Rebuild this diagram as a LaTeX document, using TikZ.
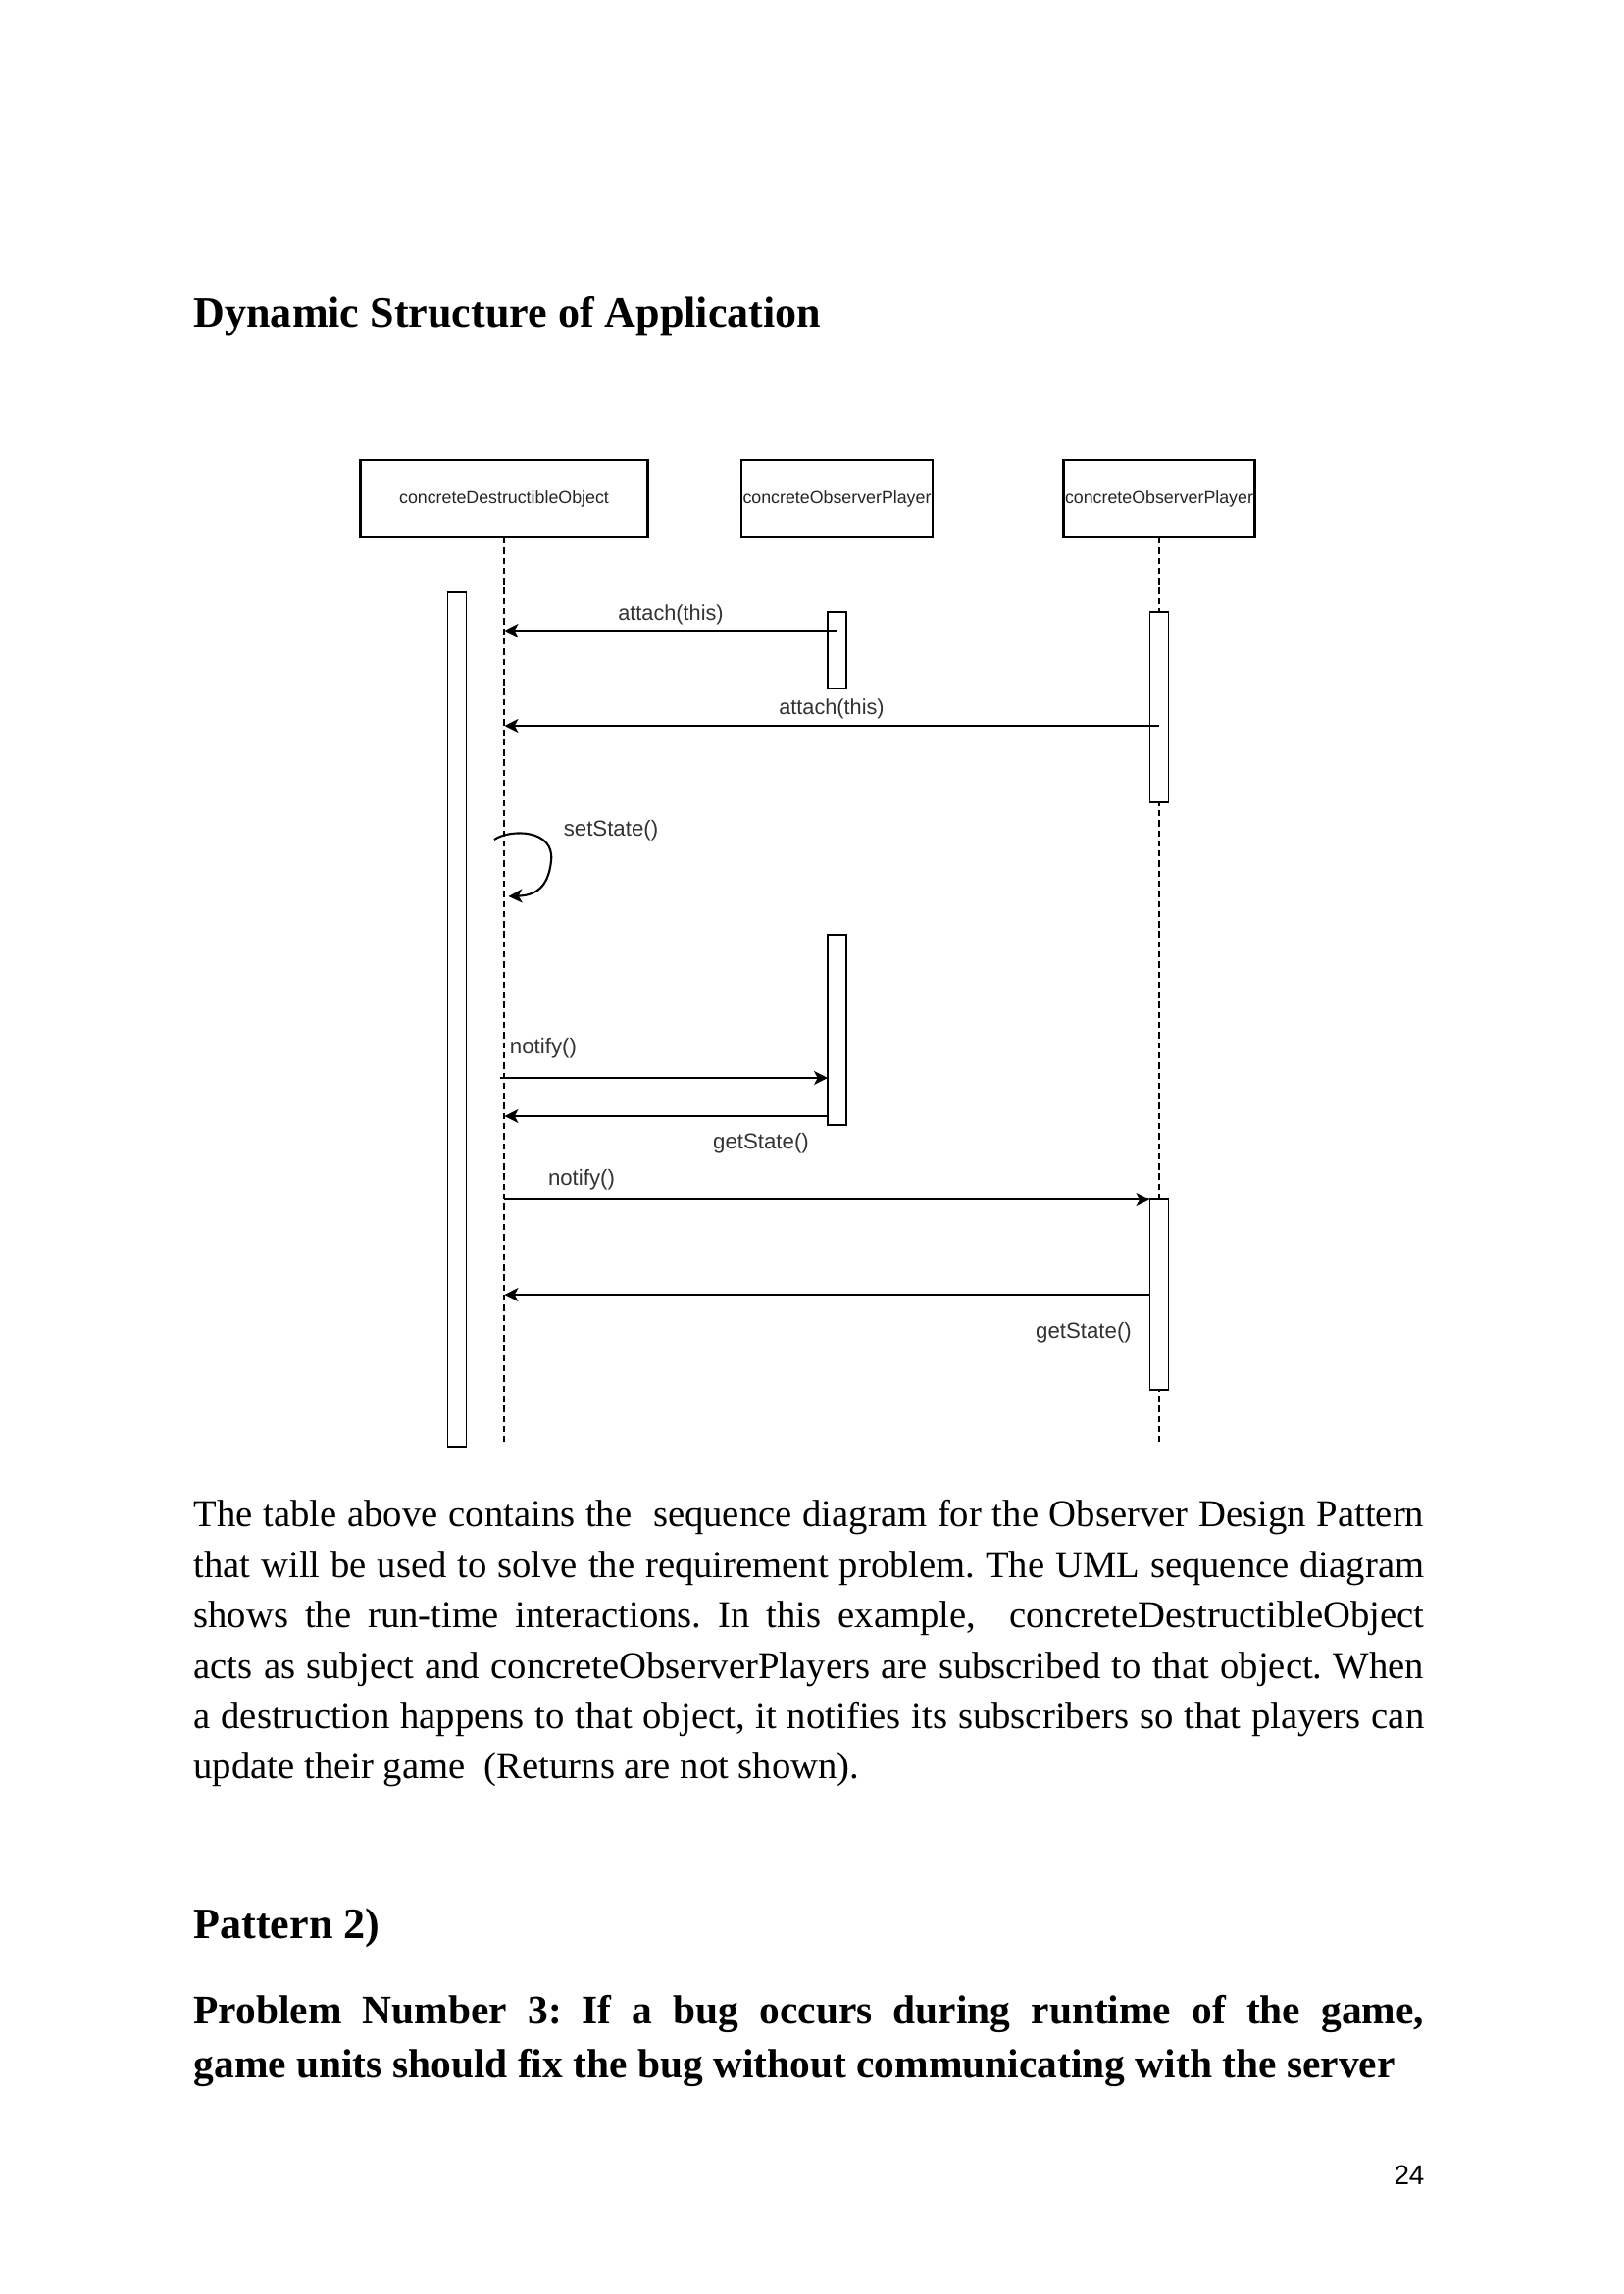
\documentclass[tikz,border=0pt]{standalone}
\usepackage{fontspec}
\setmainfont{Liberation Serif}
\newfontfamily\diagfont{Liberation Sans}
\usetikzlibrary{arrows.meta}
\begin{document}
\frenchspacing
\begin{tikzpicture}[x=0.35947pt,y=-0.35947pt,
  objbox/.style={draw, line width=0.8pt, inner sep=0pt, outer sep=0pt, fill=white,
    minimum height=28.4pt, font=\diagfont\fontsize{6.4}{7.5}\selectfont, text=black!85},
  life/.style={line width=0.6pt, dash pattern=on 2.3pt off 1.4pt},
  actbar/.style={draw, fill=white, line width=0.7pt, inner sep=0pt, outer sep=0pt, minimum width=6.83pt},
  msg/.style={line width=0.75pt, -{Stealth[length=5pt,width=5pt,inset=1.3pt]}},
  lbl/.style={font=\diagfont\fontsize{8}{9.6}\selectfont, text=black!80, inner sep=0pt},
  albl/.style={font=\diagfont\fontsize{7.8}{9.4}\selectfont, text=black!80, inner sep=0pt},
  body/.style={anchor=base west, inner sep=0pt, font=\fontsize{13.9}{16}\selectfont},
  head/.style={anchor=base west, inner sep=0pt, font=\bfseries\fontsize{15.85}{19}\selectfont},
  prob/.style={anchor=base west, inner sep=0pt, font=\bfseries\fontsize{14.9}{18}\selectfont},
]
\useasboundingbox (0,0) rectangle (1656,2339);
\fill[white] (0,0) rectangle (1656,2339);

% title
\node[head] (title) at (197,333) {Dynamic Structure of Application};

% objects
\node[objbox, minimum width=105.3pt] (o1) at (514,508.5) {concreteDestructibleObject};
\node[objbox, minimum width=70.1pt] (o2) at (853.5,508.5) {concreteObserverPlayer};
\node[objbox, minimum width=70.1pt] (o3) at (1182,508.5) {concreteObserverPlayer};

% lifelines
\coordinate (e1) at (514,1470);
\coordinate (e2) at (853.5,1470);
\coordinate (e3) at (1182,1470);
\draw[life] (o1.south) -- (e1);
\draw[life] (o2.south) -- (e2);
\draw[life] (o3.south) -- (e3);

% activation bars
\node[actbar, minimum height=313.1pt] (bar0) at (466,1039.5) {};
\node[actbar, minimum height=28.04pt] (barA) at (853.5,663) {};
\node[actbar, minimum height=69.7pt] (barB) at (1182,721) {};
\node[actbar, minimum height=69.7pt] (barC) at (853.5,1050) {};
\node[actbar, minimum height=69.7pt] (barD) at (1182,1320) {};

% message end points
\coordinate (a1s) at (853.5,643);
\coordinate (a1e) at (514.5,643);
\coordinate (a2s) at (1182,740);
\coordinate (a2e) at (514.5,740);
\coordinate (n1s) at (510,1099);
\coordinate (n1e) at (barC.west |- 0,1099);
\coordinate (g1s) at (barC.west |- 0,1138);
\coordinate (g1e) at (514.5,1138);
\coordinate (n2s) at (514,1223);
\coordinate (n2e) at (barD.west |- 0,1223);
\coordinate (g2s) at (barD.west |- 0,1320);
\coordinate (g2e) at (514.5,1320);
\coordinate (ss) at (504,856);
\coordinate (se) at (518.5,914);

% messages
\draw[msg] (a1s) -- (a1e);
\node[albl] (la1) at (684,627) {attach(this)};
\draw[msg] (a2s) -- (a2e);
\node[albl] (la2) at (848,723) {attach(this)};

\draw[msg] (ss) .. controls (520,845) and (566,845) .. (562,878)
  .. controls (559,906) and (545,913) .. (se);
\node[lbl] (lss) at (623,847) {setState()};

\draw[msg] (n1s) -- (n1e);
\node[lbl] (ln1) at (554,1069) {notify()};
\draw[msg] (g1s) -- (g1e);
\node[lbl] (lg1) at (776,1166) {getState()};

\draw[msg] (n2s) -- (n2e);
\node[lbl] (ln2) at (593,1203) {notify()};
\draw[msg] (g2s) -- (g2e);
\node[lbl] (lg2) at (1105,1359) {getState()};

% body text
\node[body] (t1) at (197,1556) {\makebox[451pt][s]{The table above contains the\ \ sequence diagram for the Observer Design Pattern}};
\node[body] (t2) at (197,1608) {\makebox[451pt][s]{that will be used to solve the requirement problem. The UML sequence diagram}};
\node[body] (t3) at (197,1659) {\makebox[451pt][s]{shows the run-time interactions. In this example,\ \ concreteDestructibleObject}};
\node[body] (t4) at (197,1711) {\makebox[451pt][s]{acts as subject and concreteObserverPlayers are subscribed to that object. When}};
\node[body] (t5) at (197,1762) {\makebox[451pt][s]{a destruction happens to that object, it notifies its subscribers so that players can}};
\node[body] (t6) at (197,1813) {update their game\ \ (Returns are not shown).};

% pattern
\node[head] (pat) at (197,1976) {Pattern 2)};
\node[prob] (p1) at (197,2063) {\makebox[451pt][s]{Problem Number 3: If a bug occurs during runtime of the game,}};
\node[prob] (p2) at (197,2118) {game units should fix the bug without communicating with the server};

% page number
\node[anchor=base east, inner sep=0pt, font=\diagfont\fontsize{10}{12}\selectfont] (pg) at (1453,2227) {24};
\end{tikzpicture}
\end{document}
